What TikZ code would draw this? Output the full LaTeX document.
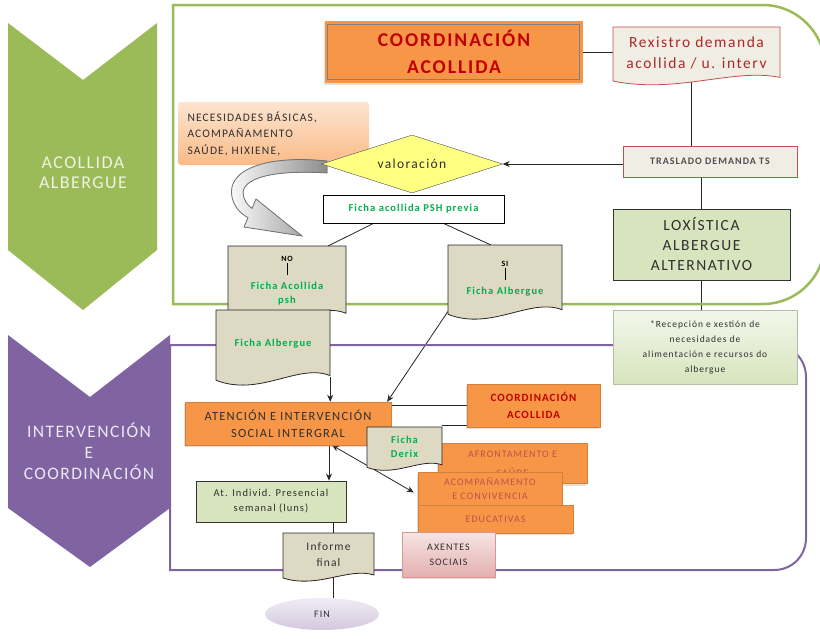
\documentclass[tikz,border=0pt]{standalone}
\usepackage{fontspec}
\setmainfont{Carlito}[LetterSpace=10]
\newfontfamily\chevfont{Carlito}[LetterSpace=8]
\usepackage{tikz}
\usetikzlibrary{arrows.meta,positioning,shapes.geometric,shadows,backgrounds}
\definecolor{grnC}{RGB}{155,187,89}
\definecolor{purC}{RGB}{128,100,162}
\definecolor{orgC}{RGB}{247,150,70}
\definecolor{redT}{RGB}{192,0,0}
\definecolor{redL}{RGB}{192,80,77}
\definecolor{redD}{RGB}{170,40,40}
\definecolor{docF}{RGB}{221,217,195}
\definecolor{boxG}{RGB}{215,228,189}
\definecolor{beiF}{RGB}{240,238,228}
\definecolor{yelF}{RGB}{255,255,130}
\definecolor{grnT}{RGB}{0,176,80}
\definecolor{txtC}{RGB}{48,48,48}
\definecolor{chevG}{RGB}{238,243,226}
\definecolor{chevP}{RGB}{236,232,242}

% document shape: name, x, y, w, h, shape style, node style, text
\newcommand{\docnode}[8]{%
  \filldraw[#6] (#2,#3) -- ({#2+#4},#3) -- ({#2+#4},{#3+0.84*#5})
    .. controls ({#2+0.72*#4},{#3+0.68*#5}) and ({#2+0.38*#4},{#3+1.12*#5}) .. (#2,{#3+0.9*#5}) -- cycle;
  \node[doc,#7,minimum width=#4,minimum height={0.86*#5},anchor=north] (#1) at ({#2+#4/2},#3) {#8};}

\begin{document}
\begin{tikzpicture}[x=1pt,y=-1pt,
  >={Stealth[length=7pt,width=6pt]},
  chevtext/.style={font=\chevfont\fontsize{18}{20}\selectfont,align=center},
  orbox/.style={fill=orgC,draw=orgC!85!black,align=center,inner sep=1pt,
    drop shadow={opacity=0.25,shadow xshift=-1pt,shadow yshift=-2pt}},
  redbox/.style={fill=beiF,draw=redL,thick,align=center},
  grbox/.style={fill=boxG,draw=black!80,thick,align=center,text=txtC},
  doc/.style={align=center,inner sep=1pt},
  docline/.style={fill=docF,draw=black!85,thick},
  link/.style={draw=black!85,thick}]
\useasboundingbox (0,0) rectangle (820,638);

% frames
\draw[grnC,line width=2.5pt] (173,5) -- (763,5) .. controls (797,5) and (825,33) .. (825,67)
  -- (825,242) .. controls (825,276) and (797,304) .. (763,304) -- (173,304) -- cycle;
\draw[purC,line width=2pt] (170,345) -- (774,345) .. controls (792,345) and (806,359) .. (806,377)
  -- (806,538) .. controls (806,556) and (792,570) .. (774,570) -- (170,570) -- cycle;

% chevrons
\fill[grnC] (8,23) -- (83,80) -- (157,23) -- (157,250) -- (83,310) -- (8,250) -- cycle;
\node[chevtext,text=chevG] (lblAcol) at (83,173) {ACOLLIDA\\ALBERGUE};
\fill[purC] (8,335) -- (90,397) -- (170,335) -- (170,508) -- (90,567) -- (8,508) -- cycle;
\node[chevtext,text=chevP,font=\chevfont\fontsize{17.5}{21}\selectfont] (lblInterv) at (89,451) {INTERVENCIÓN\\E\\COORDINACIÓN};

% acollida
\node[fill=orgC,minimum width=258,minimum height=62,align=center,text=redT,
  font=\bfseries\fontsize{19.5}{27}\selectfont,
  drop shadow={opacity=0.25,shadow xshift=-1pt,shadow yshift=-2pt}] (coordTop) at (454,52) {COORDINACIÓN\\ACOLLIDA};
\draw[black!50,thick] ([shift={(3pt,-4pt)}]coordTop.north west) rectangle ([shift={(-4pt,4pt)}]coordTop.south east);
\docnode{rexistro}{613}{27}{167}{60}{fill=beiF,draw=redL,thick}{font=\fontsize{15.5}{21}\selectfont,text=redD}{Rexistro demanda\\acollida / u. interv}
\node[redbox,minimum width=174,minimum height=31,font=\bfseries\fontsize{10}{12}\selectfont,text=txtC!85] (traslado) at (710,161.5) {TRASLADO DEMANDA TS};
\node[grbox,minimum width=177,minimum height=71,font=\fontsize{15.5}{20}\selectfont] (lox) at (701.5,244.5) {LOXÍSTICA\\ALBERGUE\\ALTERNATIVO};
\node[top color=boxG!30!white,bottom color=boxG,draw=boxG!80!black!90,align=center,text=txtC,
  minimum width=184,minimum height=74,font=\fontsize{9.5}{15}\selectfont] (recep) at (705,347) {*Recepción e xestión de\\necesidades de\\alimentación e recursos do\\albergue};
\node[top color=orgC!25!white,bottom color=orgC!65!white,rounded corners=3pt,minimum width=191,minimum height=63,
  text width=172,align=left,text=txtC,font=\fontsize{11.5}{16.5}\selectfont] (necesidades) at (273.5,133.5) {NECESIDADES BÁSICAS,\\ACOMPAÑAMENTO\\SAÚDE, HIXIENE,};
\filldraw[left color=white,middle color=white,right color=black!45,draw=black!55,thick]
  (327,161) .. controls (270,155) and (226,168) .. (232,197) .. controls (234,207) and (241,214) .. (248,217.6)
  -- (244,227) -- (302,236) -- (256,199) -- (252,208.4)
  .. controls (247,205) and (243,199) .. (243,192) .. controls (245,176) and (280,170) .. (327,173) -- cycle;
\node[diamond,aspect=3.1,draw=black!70,fill=yelF,minimum width=181,minimum height=58,inner sep=0pt,
  font=\fontsize{13.5}{15}\selectfont,text=txtC] (valoracion) at (412,164) {valoración};
\node[draw=black,thick,fill=white,minimum width=181,minimum height=28,
  font=\bfseries\fontsize{10.5}{11}\selectfont,text=grnT] (ficha) at (413.5,209) {Ficha acollida PSH previa};
\docnode{noDoc}{228}{246}{118}{80}{docline}{font=\bfseries\fontsize{10.5}{14}\selectfont}{\footnotesize NO\\\rule{0.7pt}{12pt}\\\textcolor{grnT}{Ficha Acollida}\\\textcolor{grnT}{psh}}
\docnode{siDoc}{448}{245}{114}{77}{docline}{font=\bfseries\fontsize{10.5}{14}\selectfont}{\footnotesize SI\\\rule{0.7pt}{12pt}\\\textcolor{grnT}{Ficha Albergue}}
\docnode{albDoc}{216}{310}{114}{78}{docline}{font=\bfseries\fontsize{10.5}{14}\selectfont,text=grnT}{Ficha Albergue}

% intervencion
\node[orbox,minimum width=206,minimum height=43,font=\fontsize{12.5}{17}\selectfont,text=txtC] (atencion) at (288,423.5) {ATENCIÓN E INTERVENCIÓN\\SOCIAL INTERGRAL};
\node[orbox,minimum width=133,minimum height=43,font=\bfseries\fontsize{11}{17}\selectfont,text=redT] (coord2) at (533.5,405.5) {COORDINACIÓN\\ACOLLIDA};
\node[orbox,minimum width=149,minimum height=40,font=\fontsize{10}{19}\selectfont,text=redL] (afront) at (512.5,463.5) {AFRONTAMENTO E\\SAÚDE};
\docnode{derix}{367}{427}{75}{45}{docline}{font=\bfseries\fontsize{10.5}{14}\selectfont,text=grnT}{Ficha\\Derix}
\node[orbox,minimum width=144,minimum height=33,font=\fontsize{10}{14}\selectfont,text=redL] (acomp) at (490,488.5) {ACOMPAÑAMENTO\\E CONVIVENCIA};
\node[orbox,minimum width=155,minimum height=28,font=\fontsize{10}{12}\selectfont,text=redL] (educ) at (495.5,519) {EDUCATIVAS};
\node[top color=redL!15!white,bottom color=redL!45!white,draw=redL!60!white,align=center,text=txtC,
  minimum width=93,minimum height=45,font=\fontsize{10}{15}\selectfont,
  drop shadow={opacity=0.25,shadow xshift=1pt,shadow yshift=-2pt}] (axentes) at (448.5,554.5) {AXENTES\\SOCIAIS};
\node[grbox,minimum width=150,minimum height=41,font=\fontsize{10.5}{15}\selectfont] (indiv) at (271,501.5) {At. Individ. Presencial\\semanal (luns)};
\docnode{informe}{283}{533}{91}{50}{docline}{font=\fontsize{11.5}{16}\selectfont,text=txtC}{Informe\\final}
\node[ellipse,top color=purC!12!white,bottom color=purC!35!white,minimum width=114,minimum height=32,
  font=\fontsize{10}{12}\selectfont,text=txtC] (fin) at (322,614) {FIN};

\begin{scope}[on background layer]
\draw[link] (coordTop.east) -- (rexistro.west |- coordTop.east);
\draw[link] ([xshift=-5pt]rexistro.south) -- ([xshift=-5pt]rexistro.south |- traslado.north);
\draw[link,->] (valoracion.east -| traslado.west) -- (valoracion.east);
\draw[link] (lox.north |- traslado.south) -- (lox.north);
\draw[link] (lox.south) -- (lox.south |- recep.north);
\draw[link] ([xshift=-40pt]ficha.south) -- ([xshift=41pt]noDoc.north);
\draw[link] ([xshift=30pt]ficha.south) -- ([xshift=-14pt]siDoc.north);
\draw[link,->] (albDoc.south east) -- (albDoc.south east |- atencion.north);
\draw[link,->] (siDoc.south west) -- ([xshift=-4pt]atencion.north east);
\draw[link] (coord2.west) -- (coord2.west -| atencion.east);
\draw[link] ([yshift=2pt]derix.north east) -- ([yshift=2pt]derix.north east -| coord2.west);
\draw[link,->] ([xshift=41pt]atencion.south) -- ([xshift=41pt]atencion.south |- indiv.north);
\draw[link,<->] ([xshift=44pt]atencion.south) -- ([shift={(-4pt,-4pt)}]acomp.west);
\draw[link] ([xshift=5pt]informe.north |- indiv.south) -- ([xshift=5pt]informe.north);
\draw[link] ([xshift=5pt]informe.south) -- ([xshift=5pt]informe.south |- fin.north);
\end{scope}
\end{tikzpicture}
\end{document}
